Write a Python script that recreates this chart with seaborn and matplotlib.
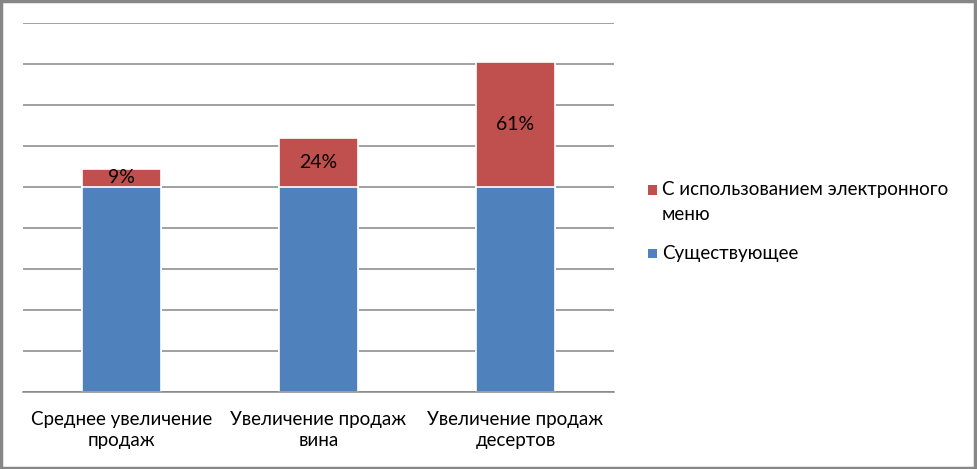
import matplotlib
matplotlib.use("Agg")
import matplotlib.pyplot as plt
import seaborn as sns
import pandas as pd
from matplotlib.patches import Rectangle

categories = ["Среднее увеличение\nпродаж", "Увеличение продаж\nвина", "Увеличение продаж\nдесертов"]
existing = [100, 100, 100]
emenu_increase = [9, 24, 61]
series_names = ["С использованием электронного\nменю", "Существующее"]
label_texts = ["9%", "24%", "61%"]

sns.set_theme(style="white")
plt.rcParams['font.family'] = ['Lato', 'DejaVu Sans']

BLUE = "#4F81BD"
RED = "#C0504D"
GRID = "#868686"

df = pd.DataFrame({
    "cat": categories,
    "existing": existing,
    "total": [a + b for a, b in zip(existing, emenu_increase)],
})

W, H = 977, 469
fig = plt.figure(figsize=(W / 100, H / 100), dpi=100)
ax = fig.add_axes([23/W, 1 - 392/H, (614 - 23)/W, (392 - 23)/H])

sns.barplot(data=df, x="cat", y="total", color=RED, saturation=1, width=0.4,
            edgecolor="white", linewidth=1.2, ax=ax, zorder=3)
sns.barplot(data=df, x="cat", y="existing", color=BLUE, saturation=1, width=0.4,
            edgecolor="white", linewidth=1.2, ax=ax, zorder=3)

ax.set_ylim(0, 180)
ax.set_xlim(-0.5, 2.5)
ax.set_yticks(range(0, 181, 20))
ax.set_yticklabels([])
ax.tick_params(axis="y", length=0)
ax.grid(axis="y", color=GRID, linewidth=1.1)
ax.set_axisbelow(True)
for s in ["left", "right", "top"]:
    ax.spines[s].set_visible(False)
ax.spines["bottom"].set_color(GRID)
ax.spines["bottom"].set_linewidth(1.1)
ax.spines["bottom"].set_zorder(4)

ax.set_xticks([0, 1, 2])
ax.set_xticklabels(categories, fontsize=13.5, color="black", linespacing=1.25)
ax.tick_params(axis="x", which="major", length=0, pad=14)
ax.set_xticks([-0.5, 0.5, 1.5, 2.5], minor=True)
ax.tick_params(axis="x", which="minor", length=7, color=GRID, width=1.1)
ax.set_xlabel("")
ax.set_ylabel("")

for i, (b, r, t) in enumerate(zip(existing, emenu_increase, label_texts)):
    ax.text(i, b + r / 2, t, ha="center", va="center", fontsize=14, color="black", zorder=5)

# Legend (Excel style: marker aligned with first line of the label)
legend_colors = [RED, BLUE]
legend_y = [190, 254]
for name, col, y0 in zip(series_names, legend_colors, legend_y):
    fig.patches.append(Rectangle((648/W, 1 - (y0 + 4.5)/H), 9/W, 9/H,
                                 transform=fig.transFigure, facecolor=col, edgecolor="none"))
    for k, line in enumerate(name.split("\n")):
        fig.text(662/W, 1 - (y0 + 24 * k)/H, line, ha="left", va="center",
                 fontsize=13.5, color="black")

fig.patches.append(Rectangle((0.001, 0.002), 0.997, 0.995, transform=fig.transFigure,
                             fill=False, edgecolor="#878787", linewidth=2.5))

fig.savefig("out.png", dpi=100)
